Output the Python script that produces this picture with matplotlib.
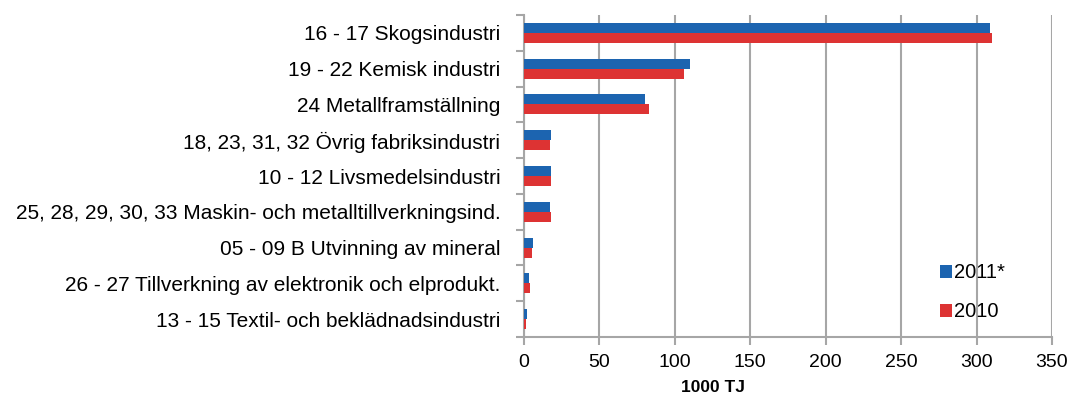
import numpy
import matplotlib
matplotlib.use('Agg')
import matplotlib.pyplot as plt
from matplotlib.ticker import FixedLocator

# Data, top to bottom as in the chart
categories = [
    '16 - 17 Skogsindustri',
    '19 - 22 Kemisk industri',
    '24 Metallframställning',
    '18, 23, 31, 32 Övrig fabriksindustri',
    '10 - 12 Livsmedelsindustri',
    '25, 28, 29, 30, 33 Maskin- och metalltillverkningsind.',
    '05 - 09 B Utvinning av mineral',
    '26 - 27 Tillverkning av elektronik och elprodukt.',
    '13 - 15 Textil- och beklädnadsindustri',
]
values_2011 = [309, 110, 80, 18, 18, 17, 6, 3, 2]
values_2010 = [310, 106, 83, 17, 18, 18, 5, 4, 1]
series_labels = ['2011*', '2010']
x_ticks = [0, 50, 100, 150, 200, 250, 300, 350]

BLUE = '#1c64b0'
RED = '#dd3333'
GRAY = '#a6a6a6'

plt.rcParams['font.family'] = ['Liberation Sans', 'DejaVu Sans']

fig = plt.figure(figsize=(10.72, 4.04), dpi=100)
axes = fig.add_axes([0.4888, 0.1658, 0.4925, 0.7971])

y_poss = numpy.arange(len(categories))
bar_h = 0.28
axes.barh(y_poss - bar_h / 2, values_2011, height=bar_h, color=BLUE, label=series_labels[0], zorder=3)
axes.barh(y_poss + bar_h / 2, values_2010, height=bar_h, color=RED, label=series_labels[1], zorder=3)

axes.set_ylim(len(categories) - 0.5, -0.5)
axes.set_xlim(0, 350)

axes.set_yticks(y_poss)
axes.set_yticklabels(categories, fontsize=15)
axes.yaxis.set_minor_locator(FixedLocator(numpy.arange(-0.5, len(categories), 1.0)))
axes.tick_params(axis='y', which='major', length=0, pad=17)
axes.tick_params(axis='y', which='minor', length=6, color=GRAY, width=1.5)

axes.set_xticks(x_ticks)
axes.tick_params(axis='x', which='major', length=6, color=GRAY, width=1.5, labelsize=14, pad=6)

axes.grid(axis='x', color=GRAY, linewidth=1.5, zorder=0)
for side in ['top', 'right']:
    axes.spines[side].set_visible(False)
for side in ['left', 'bottom']:
    axes.spines[side].set_color(GRAY)
    axes.spines[side].set_linewidth(1.5)

axes.set_xlabel('1000 TJ', fontsize=12.5, fontweight='bold')
axes.xaxis.set_label_coords(0.357, -0.135)

axes.legend(loc='upper left', bbox_to_anchor=(0.768, 0.26), frameon=False,
            fontsize=14.5, handlelength=0.6, handleheight=0.6,
            handletextpad=0.1, labelspacing=1.0, borderpad=0)

fig.savefig('out.png', dpi=100)
